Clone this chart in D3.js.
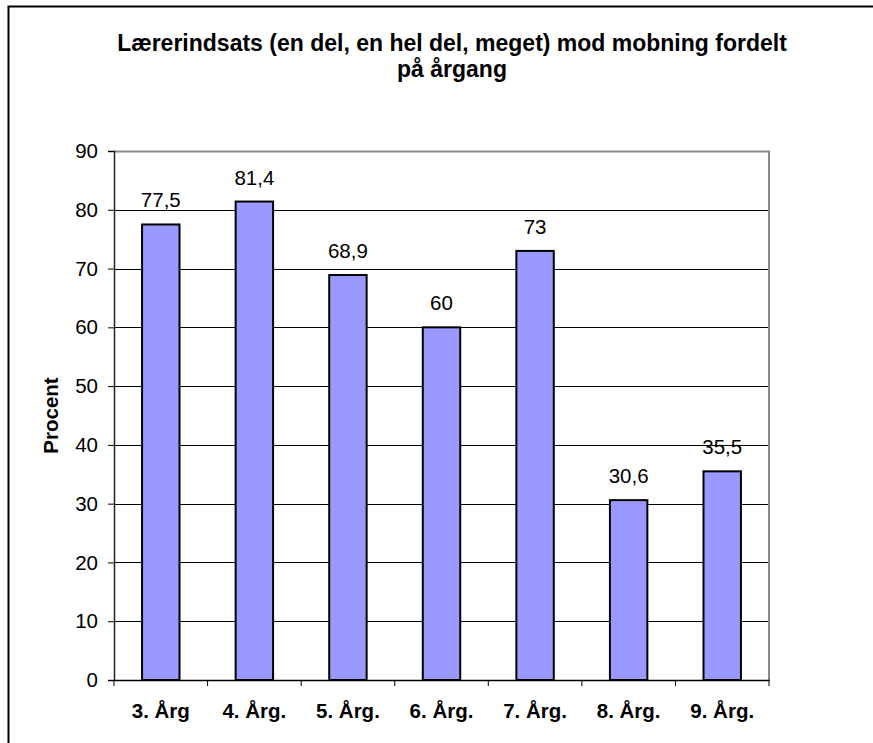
<!DOCTYPE html>
<html>
<head>
<meta charset="utf-8">
<script src="https://cdn.jsdelivr.net/npm/d3@7"></script>
<style>
  body { margin: 0; background: #fff; }
  svg { display: block; font-family: Arial, "Liberation Sans", sans-serif; }
  .grid-line { stroke: #000; stroke-width: 1; shape-rendering: crispEdges; }
  .bar { fill: #9999ff; stroke: #000; stroke-width: 2; }
</style>
</head>
<body>
<svg id="plotarea"></svg>
<script>
// data
const categories = ['3. Årg', '4. Årg.', '5. Årg.', '6. Årg.', '7. Årg.', '8. Årg.', '9. Årg.'];
const values = [77.5, 81.4, 68.9, 60, 73, 30.6, 35.5];
const labels = ['77,5', '81,4', '68,9', '60', '73', '30,6', '35,5'];
const yTicks = [0, 10, 20, 30, 40, 50, 60, 70, 80, 90];
const titleLines = ['Lærerindsats (en del, en hel del, meget) mod mobning fordelt', 'på årgang'];

const margin = { top: 151, bottom: 63, left: 114, right: 104 };
const dims = {
    width: 873 - margin.left - margin.right,
    height: 743 - margin.top - margin.bottom,
};
const fontSize = '20.5px';

const root = d3.select('#plotarea')
               .attr('width', 873)
               .attr('height', 743);

// outer chart border (cropped at right and bottom)
root.append('rect')
    .attr('x', 8.5).attr('y', 6.5)
    .attr('width', 1000).attr('height', 1000)
    .attr('fill', 'none')
    .attr('stroke', '#000')
    .attr('stroke-width', 2);

// title
root.append('text')
    .attr('x', 452)
    .attr('y', 51)
    .style('text-anchor', 'middle')
    .style('font-weight', 'bold')
    .style('font-size', '23px')
    .selectAll('tspan')
    .data(titleLines)
    .enter()
    .append('tspan')
    .attr('x', 452)
    .attr('dy', (d, i) => i === 0 ? 0 : 26)
    .text(d => d);

const svg = root.append('g')
                .attr('transform', `translate(${margin.left}, ${margin.top})`);

const x = d3.scaleBand().domain(categories).range([0, dims.width]).paddingInner(0).paddingOuter(0);
const y = d3.scaleLinear().domain([0, 90]).range([dims.height, 0]);

// grid lines
svg.selectAll('line.grid-line')
   .data(yTicks.filter(t => t > 0 && t < 90))
   .enter()
   .append('line')
   .attr('class', 'grid-line')
   .attr('x1', 0)
   .attr('x2', dims.width)
   .attr('y1', d => Math.round(y(d)) + 0.5)
   .attr('y2', d => Math.round(y(d)) + 0.5);

// plot frame top and right (gray)
svg.append('path')
   .attr('d', `M0,0.5H${dims.width}V${dims.height}`)
   .attr('fill', 'none')
   .attr('stroke', '#888')
   .attr('stroke-width', 2);

// bars
const barW = x.bandwidth() * 0.4;
svg.selectAll('rect.bar')
   .data(values)
   .enter()
   .append('rect')
   .attr('class', 'bar')
   .attr('x', (d, i) => x(categories[i]) + (x.bandwidth() - barW) / 2)
   .attr('width', barW)
   .attr('y', d => y(d))
   .attr('height', d => dims.height - y(d));

// value labels
svg.selectAll('text.value')
   .data(values)
   .enter()
   .append('text')
   .attr('class', 'value')
   .attr('x', (d, i) => x(categories[i]) + x.bandwidth() / 2)
   .attr('y', d => y(d) - 17)
   .style('text-anchor', 'middle')
   .style('font-size', fontSize)
   .text((d, i) => labels[i]);

// Y axis
const yAxis = svg.append('g')
   .attr('class', 'y-axis')
   .call(d3.axisLeft(y).tickValues(yTicks).tickSize(6).tickPadding(10));
yAxis.select('.domain').attr('stroke', '#222').attr('stroke-width', 1.5);
yAxis.selectAll('.tick line').attr('stroke', '#000');
yAxis.selectAll('.tick text')
     .style('font-size', fontSize)
     .style('font-family', 'Arial, "Liberation Sans", sans-serif')
     .attr('fill', '#000');

// X axis
const xAxis = svg.append('g')
   .attr('class', 'x-axis')
   .attr('transform', `translate(0, ${dims.height})`)
   .call(d3.axisBottom(x).tickSize(0).tickPadding(38));
xAxis.select('.domain').attr('stroke', '#000').attr('stroke-width', 1.5);
xAxis.selectAll('.tick text')
     .style('font-size', fontSize)
     .style('font-weight', 'bold')
     .style('font-family', 'Arial, "Liberation Sans", sans-serif')
     .attr('fill', '#000')
     .attr('dy', '0');

// category boundary ticks
xAxis.selectAll('line.boundary')
     .data(d3.range(categories.length + 1))
     .enter()
     .append('line')
     .attr('class', 'boundary')
     .attr('x1', i => i * x.step())
     .attr('x2', i => i * x.step())
     .attr('y1', 0)
     .attr('y2', 6)
     .attr('stroke', '#000')
     .attr('stroke-width', 1);

// text label for the y axis
root.append('text')
    .attr('transform', `translate(58, ${margin.top + dims.height / 2}) rotate(-90)`)
    .style('text-anchor', 'middle')
    .style('font-weight', 'bold')
    .style('font-size', fontSize)
    .text('Procent');
</script>
</body>
</html>
